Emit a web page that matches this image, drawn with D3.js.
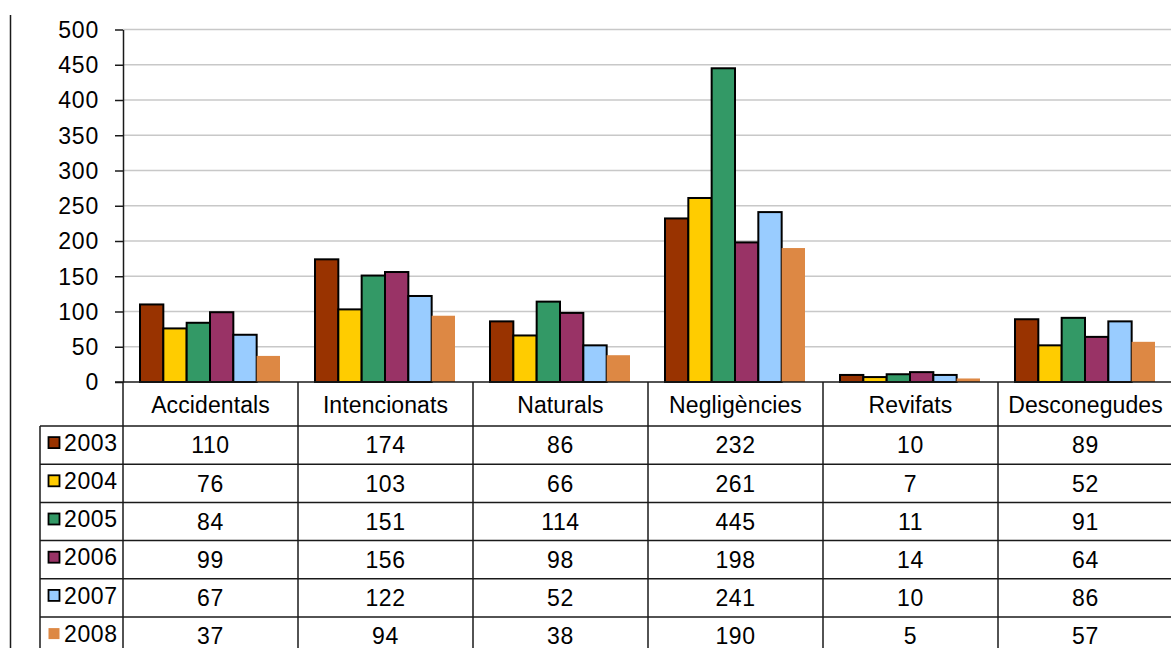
<!DOCTYPE html>
<html>
<head>
<meta charset="utf-8">
<script src="https://cdn.jsdelivr.net/npm/d3@7"></script>
<style>
  html, body { margin: 0; padding: 0; background: #ffffff; }
  svg { display: block; }
  text { font-family: "Liberation Sans", Arial, sans-serif; fill: #000; }
</style>
</head>
<body>
<svg id="chart" width="1171" height="648"></svg>
<script>
const categories = ["Accidentals", "Intencionats", "Naturals", "Negligències", "Revifats", "Desconegudes"];
const years = ["2003", "2004", "2005", "2006", "2007", "2008"];
const v2003 = [110, 174, 86, 232, 10, 89];
const v2004 = [76, 103, 66, 261, 7, 52];
const v2005 = [84, 151, 114, 445, 11, 91];
const v2006 = [99, 156, 98, 198, 14, 64];
const v2007 = [67, 122, 52, 241, 10, 86];
const v2008 = [37, 94, 38, 190, 5, 57];
const seriesValues = [v2003, v2004, v2005, v2006, v2007, v2008];
const colors = ["#993300", "#ffcc00", "#339966", "#993366", "#99ccff", "#dd8844"];
const yTicks = [0, 50, 100, 150, 200, 250, 300, 350, 400, 450, 500];

const svg = d3.select("#chart");
const lineColor = "#1a1a1a";
const fontSize = 23;

const y = d3.scaleLinear().domain([0, 500]).range([382, 29.5]);
const x = d3.scaleBand().domain(categories).range([123, 1173]).padding(0);
const xi = d3.scaleBand().domain(years).range([17, 157]).padding(0);

// left frame line
svg.append("line").attr("x1", 10.5).attr("x2", 10.5).attr("y1", 15).attr("y2", 648)
  .attr("stroke", lineColor).attr("stroke-width", 1.5);

// gridlines
svg.append("g").selectAll("line").data(yTicks.filter(t => t > 0)).join("line")
  .attr("x1", 123).attr("x2", 1171)
  .attr("y1", d => y(d)).attr("y2", d => y(d))
  .attr("stroke", "#c8c8c8").attr("stroke-width", 1.5);

// y axis
const yAxis = d3.axisLeft(y).tickValues(yTicks).tickSize(8).tickPadding(16).tickSizeOuter(0);
const gy = svg.append("g").attr("transform", "translate(123,0)").call(yAxis);
gy.select(".domain").attr("stroke", lineColor).attr("stroke-width", 1.5);
gy.selectAll(".tick line").attr("stroke", lineColor).attr("stroke-width", 1.5);
gy.selectAll(".tick text").attr("font-size", fontSize).attr("font-family", "Liberation Sans, Arial, sans-serif")
  .attr("fill", "#000").attr("letter-spacing", "0.8px").attr("dy", "0.34em");

// bars
const data = [];
categories.forEach((c, ci) => {
  years.forEach((yr, yi) => data.push({ c, yr, yi, v: seriesValues[yi][ci] }));
});
svg.append("g").selectAll("rect").data(data).join("rect")
  .attr("x", d => x(d.c) + xi(d.yr))
  .attr("width", xi.bandwidth())
  .attr("y", d => y(d.v))
  .attr("height", d => y(0) - y(d.v))
  .attr("fill", d => colors[d.yi])
  .attr("stroke", d => d.yi === 5 ? "none" : "#000")
  .attr("stroke-width", 2);

// table
const tableTop = 426;
const rowH = 38.2;
const g = svg.append("g");

// x axis line (top of category row)
g.append("line").attr("x1", 115).attr("x2", 1171).attr("y1", 382).attr("y2", 382)
  .attr("stroke", lineColor).attr("stroke-width", 1.5);

// horizontal table lines
const hLines = d3.range(0, 6).map(i => tableTop + i * rowH);
g.selectAll("line.h").data(hLines).join("line").attr("class", "h")
  .attr("x1", 40).attr("x2", 1171).attr("y1", d => d).attr("y2", d => d)
  .attr("stroke", lineColor).attr("stroke-width", 1.5);

// vertical lines
const colEdges = categories.map(c => x(c));
g.selectAll("line.v").data(colEdges).join("line").attr("class", "v")
  .attr("x1", d => d).attr("x2", d => d).attr("y1", 382).attr("y2", 648)
  .attr("stroke", lineColor).attr("stroke-width", 1.5);
g.append("line").attr("x1", 40).attr("x2", 40).attr("y1", tableTop).attr("y2", 648)
  .attr("stroke", lineColor).attr("stroke-width", 1.5);

// category labels
g.selectAll("text.cat").data(categories).join("text").attr("class", "cat")
  .attr("x", c => x(c) + x.bandwidth() / 2).attr("y", 405)
  .attr("dy", "0.36em").attr("text-anchor", "middle")
  .attr("font-size", fontSize).attr("letter-spacing", "0.1px").text(c => c);

// legend cells
years.forEach((yr, yi) => {
  const cy = tableTop + yi * rowH + rowH / 2;
  g.append("rect").attr("x", 48.5).attr("y", cy - 8).attr("width", 11).attr("height", 11)
    .attr("fill", colors[yi]).attr("stroke", yi === 5 ? "none" : "#000").attr("stroke-width", 1.8);
  g.append("text").attr("x", 64).attr("y", cy - 2.5).attr("dy", "0.36em")
    .attr("font-size", fontSize).attr("letter-spacing", "0.6px").text(yr);
  categories.forEach((c, ci) => {
    g.append("text").attr("x", x(c) + x.bandwidth() / 2).attr("y", cy).attr("dy", "0.36em")
      .attr("text-anchor", "middle").attr("font-size", fontSize).attr("letter-spacing", "0.6px")
      .text(seriesValues[yi][ci]);
  });
});
</script>
</body>
</html>
